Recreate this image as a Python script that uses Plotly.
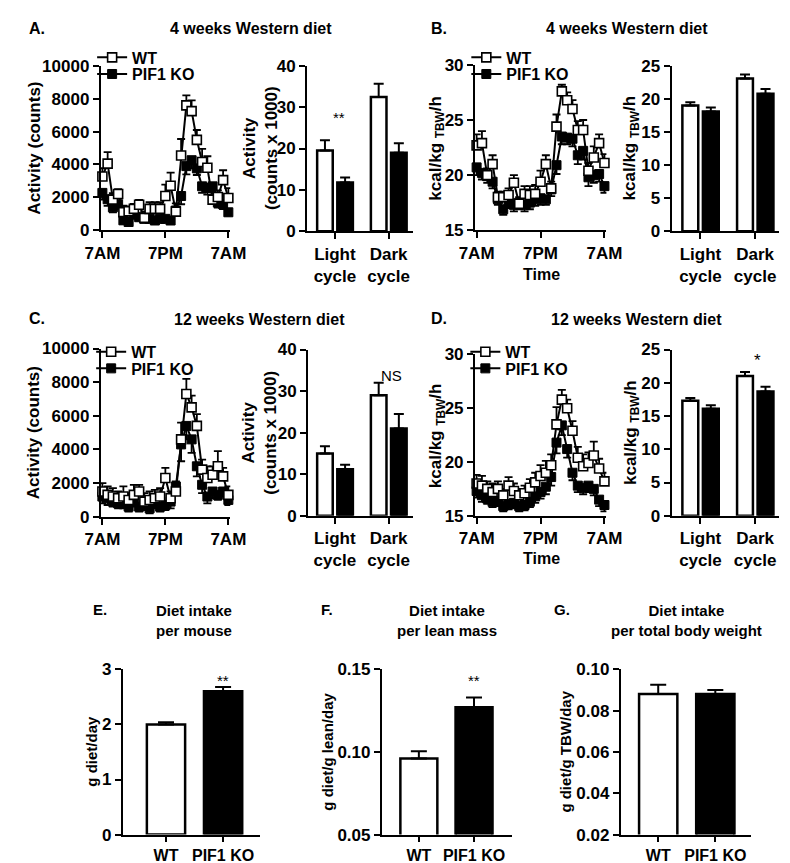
import plotly.graph_objects as go

W, H = 790, 863
FONT = "Liberation Sans, Arial, sans-serif"

def fx(p):
    return p / W

def fy(p):
    return 1 - p / H

# ---------------- data ----------------
hours = list(range(25))
time_ticks = [0, 12, 24]
time_labels = ["7AM", "7PM", "7AM"]
cycle_labels = ["Light<br>cycle", "Dark<br>cycle"]
group_labels = ["WT", "PIF1 KO"]

# A: 4 weeks activity (counts)
a_wt = [3270, 4050, 1860, 2200, 1100, 1150, 1300, 1550, 750, 1300, 1300, 1300, 2080, 2710, 1130,
        4550, 7600, 7250, 5500, 4150, 3800, 1860, 2020, 3050, 1960]
a_wt_err = [500, 700, 400, 300, 400, 300, 300, 300, 400, 400, 400, 400, 700, 800, 500,
            1000, 600, 650, 600, 800, 700, 500, 400, 600, 600]
a_ko = [2270, 1880, 1390, 1580, 600, 500, 990, 790, 690, 690, 590, 690, 690, 590, 1200,
        2080, 3900, 4260, 3760, 2670, 2570, 2670, 1680, 1580, 1090]
a_ko_err = [400, 400, 300, 300, 200, 200, 300, 200, 200, 200, 200, 200, 200, 200, 300,
            500, 500, 500, 400, 400, 400, 500, 300, 300, 200]
a_bar_wt = [19.5, 32.5]
a_bar_wt_err = [2.5, 3.2]
a_bar_ko = [11.8, 19.0]
a_bar_ko_err = [1.2, 2.3]

# B: 4 weeks energy expenditure
b_wt = [22.7, 22.9, 20.0, 21.0, 18.0, 18.0, 18.2, 19.3, 17.4, 18.3, 18.2, 18.3, 19.4, 21.0, 18.8,
        24.4, 27.6, 26.8, 26.0, 24.1, 24.1, 20.4, 21.6, 22.9, 21.1]
b_wt_err = [1.0, 1.1, 0.6, 0.8, 0.5, 0.5, 0.6, 0.7, 0.6, 0.7, 0.8, 0.8, 1.0, 0.8, 0.6,
            1.1, 0.6, 0.7, 0.8, 0.8, 0.9, 0.7, 1.0, 0.8, 0.8]
b_ko = [20.7, 20.2, 19.9, 19.4, 17.8, 16.9, 17.5, 17.3, 17.5, 17.3, 17.5, 17.8, 17.9, 17.8, 18.7,
        20.9, 23.5, 23.4, 23.3, 21.8, 22.2, 19.8, 20.0, 20.1, 19.0]
b_ko_err = [0.7, 0.6, 0.6, 0.6, 0.5, 0.5, 0.5, 0.6, 0.6, 0.6, 0.6, 0.6, 0.6, 0.5, 0.6,
            0.8, 0.7, 0.6, 0.7, 0.8, 0.8, 0.8, 0.7, 0.7, 0.6]
b_bar_wt = [19.0, 23.1]
b_bar_wt_err = [0.5, 0.6]
b_bar_ko = [18.1, 20.8]
b_bar_ko_err = [0.6, 0.7]

# C: 12 weeks activity
c_wt = [1500, 1300, 1200, 1100, 1200, 1000, 1300, 1500, 900, 1000, 1100, 1200, 2300, 1100, 1500,
        4600, 7300, 6500, 5400, 2800, 2300, 2500, 3000, 2400, 1300]
c_wt_err = [500, 500, 500, 400, 600, 400, 600, 400, 500, 500, 500, 500, 600, 400, 600,
            1000, 900, 700, 700, 600, 700, 500, 900, 500, 500]
c_ko = [1200, 1100, 900, 800, 800, 600, 900, 600, 700, 500, 800, 600, 700, 900, 1800,
        4300, 5400, 4600, 3000, 1900, 1200, 1500, 1300, 1500, 1000]
c_ko_err = [400, 400, 300, 300, 300, 300, 300, 300, 300, 300, 300, 300, 300, 400, 500,
            1000, 800, 800, 600, 500, 400, 400, 300, 300, 300]
c_bar_wt = [15.0, 29.0]
c_bar_wt_err = [1.7, 3.0]
c_bar_ko = [11.2, 21.0]
c_bar_ko_err = [1.1, 3.5]

# D: 12 weeks energy expenditure
d_wt = [18.0, 17.8, 17.5, 17.2, 17.5, 16.9, 17.8, 17.3, 16.9, 17.1, 17.6, 18.1, 18.7, 19.0, 19.7,
        23.5, 25.8, 25.0, 22.9, 20.4, 19.6, 19.9, 20.6, 19.4, 18.2]
d_wt_err = [0.8, 0.9, 0.7, 0.8, 0.7, 0.6, 0.8, 0.7, 0.6, 0.7, 0.8, 0.9, 1.0, 1.1, 1.0,
            1.6, 0.9, 0.8, 0.9, 1.0, 1.1, 1.0, 1.3, 0.9, 0.8]
d_ko = [17.3, 16.9, 16.6, 16.3, 16.4, 15.9, 16.1, 16.2, 15.9, 16.0, 16.3, 16.8, 17.2, 17.7, 18.6,
        21.8, 23.4, 21.2, 19.0, 17.8, 17.6, 17.8, 17.5, 16.5, 16.0]
d_ko_err = [0.6, 0.6, 0.5, 0.5, 0.5, 0.5, 0.5, 0.5, 0.5, 0.5, 0.5, 0.6, 0.6, 0.7, 0.8,
            1.0, 0.9, 0.8, 0.7, 0.6, 0.6, 0.6, 0.6, 0.6, 0.6]
d_bar_wt = [17.3, 21.0]
d_bar_wt_err = [0.4, 0.6]
d_bar_ko = [16.1, 18.7]
d_bar_ko_err = [0.5, 0.7]

# E, F, G: diet intake
e_vals = [2.0, 2.6]
e_err = [0.04, 0.08]
f_vals = [0.096, 0.127]
f_err = [0.0045, 0.006]
g_vals = [0.088, 0.088]
g_err = [0.0045, 0.002]

# ---------------- figure ----------------
fig = go.Figure()

tickfont = dict(family=FONT, size=17, color="black", weight="bold")


def axis_style(dom, rng, **kw):
    d = dict(domain=dom, range=rng, showline=True, linecolor="black", linewidth=2,
             ticks="outside", ticklen=6, tickwidth=2, tickcolor="black",
             showgrid=False, zeroline=False, tickfont=tickfont, fixedrange=True)
    d.update(kw)
    return d


def add_panel(n, xpx, ypx, xrange, yrange, xkw, ykw):
    xa = "xaxis" if n == 1 else f"xaxis{n}"
    ya = "yaxis" if n == 1 else f"yaxis{n}"
    xid = "x" if n == 1 else f"x{n}"
    yid = "y" if n == 1 else f"y{n}"
    fig.update_layout(**{
        xa: axis_style([fx(xpx[0]), fx(xpx[1])], xrange, anchor=yid, **xkw),
        ya: axis_style([fy(ypx[1]), fy(ypx[0])], yrange, anchor=xid, **ykw),
    })


line_xrange = [-0.31, 24.37]
time_x = dict(tickmode="array", tickvals=time_ticks, ticktext=time_labels)


def add_lines(n, leg_wt, leg_ko, wt, wt_err, ko, ko_err):
    xid = "x" if n == 1 else f"x{n}"
    yid = "y" if n == 1 else f"y{n}"
    fig.add_trace(go.Scatter(
        x=hours, y=ko, mode="lines+markers", name="PIF1 KO", legend=leg_ko,
        xaxis=xid, yaxis=yid, cliponaxis=False,
        line=dict(color="black", width=2),
        marker=dict(symbol="square", size=9, color="black", line=dict(color="black", width=1)),
        error_y=dict(type="data", symmetric=False, array=[0] * len(ko), arrayminus=ko_err,
                     color="black", thickness=1.8, width=4)))
    fig.add_trace(go.Scatter(
        x=hours, y=wt, mode="lines+markers", name="WT", legend=leg_wt,
        xaxis=xid, yaxis=yid, cliponaxis=False,
        line=dict(color="black", width=2),
        marker=dict(symbol="square", size=9, color="white", line=dict(color="black", width=1.6)),
        error_y=dict(type="data", symmetric=False, array=wt_err, arrayminus=[0] * len(wt),
                     color="black", thickness=1.8, width=4)))


def add_cycle_bars(n, wt, wt_err, ko, ko_err):
    xid = f"x{n}"
    yid = f"y{n}"
    for vals, err, col, off in ((wt, wt_err, "white", -0.33), (ko, ko_err, "black", 0.045)):
        fig.add_trace(go.Bar(
            x=cycle_labels, y=vals, xaxis=xid, yaxis=yid, showlegend=False,
            width=0.29, offset=off,
            marker=dict(color=col, line=dict(color="black", width=2.5)),
            error_y=dict(type="data", symmetric=False, array=err, arrayminus=[0, 0],
                         color="black", thickness=2, width=5)))


def add_group_bars(n, vals, err):
    xid = f"x{n}"
    yid = f"y{n}"
    fig.add_trace(go.Bar(
        x=group_labels, y=vals, xaxis=xid, yaxis=yid, showlegend=False, width=0.67,
        marker=dict(color=["white", "black"], line=dict(color="black", width=2.5)),
        error_y=dict(type="data", symmetric=False, array=err, arrayminus=[0, 0],
                     color="black", thickness=2, width=8)))


big = dict(dtick=2000, tickformat="d")
cat = dict(type="category")
cat3 = dict(type="category", ticklen=5,
            tickfont=dict(family=FONT, size=16, color="black", weight="bold"))

# Row 1
add_panel(1, (80, 215), (50, 218), line_xrange, [0, 10000], time_x, big)
add_lines(1, "legend", "legend2", a_wt, a_wt_err, a_ko, a_ko_err)
add_panel(2, (295, 405), (50, 219), [-0.518, 1.446], [0, 40], cat, dict(dtick=10))
add_cycle_bars(2, a_bar_wt, a_bar_wt_err, a_bar_ko, a_bar_ko_err)
add_panel(3, (470, 607), (49, 218), line_xrange, [15, 30], time_x, dict(dtick=5))
add_lines(3, "legend3", "legend4", b_wt, b_wt_err, b_ko, b_ko_err)
add_panel(4, (675, 787), (50, 219), [-0.526, 1.439], [0, 25], cat, dict(dtick=5))
add_cycle_bars(4, b_bar_wt, b_bar_wt_err, b_bar_ko, b_bar_ko_err)

# Row 2
add_panel(5, (80, 215), (339, 511), line_xrange, [0, 10000], time_x, big)
add_lines(5, "legend5", "legend6", c_wt, c_wt_err, c_ko, c_ko_err)
add_panel(6, (296, 405), (340, 510), [-0.5, 1.446], [0, 40], cat, dict(dtick=10))
add_cycle_bars(6, c_bar_wt, c_bar_wt_err, c_bar_ko, c_bar_ko_err)
add_panel(7, (470, 607), (345, 510), line_xrange, [15, 30], time_x, dict(dtick=5))
add_lines(7, "legend7", "legend8", d_wt, d_wt_err, d_ko, d_ko_err)
add_panel(8, (675, 787), (340, 510), [-0.526, 1.439], [0, 25], cat, dict(dtick=5))
add_cycle_bars(8, d_bar_wt, d_bar_wt_err, d_bar_ko, d_bar_ko_err)

# Row 3
add_panel(9, (103, 246), (667, 836), [-0.756, 1.647], [0, 3], cat3, dict(dtick=1))
add_group_bars(9, e_vals, e_err)
add_panel(10, (373, 509), (667, 836), [-0.67, 1.695], [0.05, 0.15], cat3,
          dict(dtick=0.05, tick0=0.05, tickformat=".2f"))
add_group_bars(10, f_vals, f_err)
add_panel(11, (622, 758), (667, 836), [-0.655, 1.63], [0.02, 0.10], cat3,
          dict(dtick=0.02, tick0=0.02, tickformat=".2f"))
add_group_bars(11, g_vals, g_err)

# legends (one entry each so rows can sit close together)
leg_common = dict(xanchor="left", yanchor="top", bgcolor="rgba(0,0,0,0)", borderwidth=0,
                  font=dict(family=FONT, size=16, color="black", weight="bold"),
                  itemwidth=30, tracegroupgap=0)
fig.update_layout(
    legend=dict(x=fx(71), y=fy(24), **leg_common),
    legend2=dict(x=fx(71), y=fy(41), **leg_common),
    legend3=dict(x=fx(461), y=fy(24), **leg_common),
    legend4=dict(x=fx(461), y=fy(41), **leg_common),
    legend5=dict(x=fx(70), y=fy(325), **leg_common),
    legend6=dict(x=fx(70), y=fy(342), **leg_common),
    legend7=dict(x=fx(460), y=fy(325), **leg_common),
    legend8=dict(x=fx(460), y=fy(342), **leg_common),
)

annotations = []


def ann(text, x, y, size=16, bold=True, angle=0, xanchor="center"):
    annotations.append(dict(
        text=text, x=fx(x), y=fy(y), xref="paper", yref="paper", showarrow=False,
        xanchor=xanchor, yanchor="middle", textangle=angle,
        font=dict(family=FONT, size=size, color="black", weight="bold" if bold else "normal")))


def data_ann(text, xref, yref, x, y, size=15, bold=False):
    annotations.append(dict(
        text=text, x=x, y=y, xref=xref, yref=yref, showarrow=False,
        xanchor="center", yanchor="middle",
        font=dict(family=FONT, size=size, color="black", weight="bold" if bold else "normal")))


# panel letters & titles
ann("A.", 3, 12, 16, xanchor="left")
ann("4 weeks Western diet", 237, 12, 16)
ann("B.", 422, 12, 16, xanchor="left")
ann("4 weeks Western diet", 628, 12, 16)
ann("C.", 3, 308, 16, xanchor="left")
ann("12 weeks Western diet", 245, 309, 16)
ann("D.", 422, 308, 16, xanchor="left")
ann("12 weeks Western diet", 638, 309, 16)
ann("E.", 70, 606, 15, xanchor="left")
ann("Diet intake<br>per mouse", 177, 617, 15)
ann("F.", 307, 606, 15, xanchor="left")
ann("Diet intake<br>per lean mass", 441, 617, 15)
ann("G.", 550, 606, 15, xanchor="left")
ann("Diet intake<br>per total body weight", 690, 617, 15)

# axis titles
ann("Activity (counts)", 10, 134, 17, angle=-90)
ann("Activity<br>(counts x 1000)", 246, 134, 17, angle=-90)
ann("kcal/kg <sub>TBW</sub>/h", 430, 134, 17, angle=-90)
ann("kcal/kg <sub>TBW</sub>/h", 633, 134, 17, angle=-90)
ann("Time", 539, 263, 16)
ann("Activity (counts)", 10, 425, 17, angle=-90)
ann("Activity<br>(counts x 1000)", 246, 425, 17, angle=-90)
ann("kcal/kg <sub>TBW</sub>/h", 430, 428, 17, angle=-90)
ann("kcal/kg <sub>TBW</sub>/h", 633, 425, 17, angle=-90)
ann("Time", 539, 554, 16)
ann("g diet/day", 70, 751, 15, angle=-90)
ann("g diet/g lean/day", 316, 751, 15, angle=-90)
ann("g diet/g TBW/day", 564, 751, 15, angle=-90)

# significance marks
data_ann("**", "x2", "y2", 0.08, 27.5)
data_ann("**", "x2", "y2", 1.1, 40.5)
data_ann("*", "x4", "y4", 1.05, 27.8, 17)
data_ann("NS", "x6", "y6", 1.05, 33.8, 15)
data_ann("*", "x8", "y8", 1.05, 23.3, 17)
data_ann("**", "x9", "y9", 1, 2.8)
data_ann("**", "x10", "y10", 1, 0.143)

fig.update_layout(
    width=W, height=H, margin=dict(l=0, r=0, t=0, b=0),
    plot_bgcolor="white", paper_bgcolor="white",
    barmode="overlay", showlegend=True,
    font=dict(family=FONT, color="black"),
    annotations=annotations,
)

fig.write_html("out.html")
